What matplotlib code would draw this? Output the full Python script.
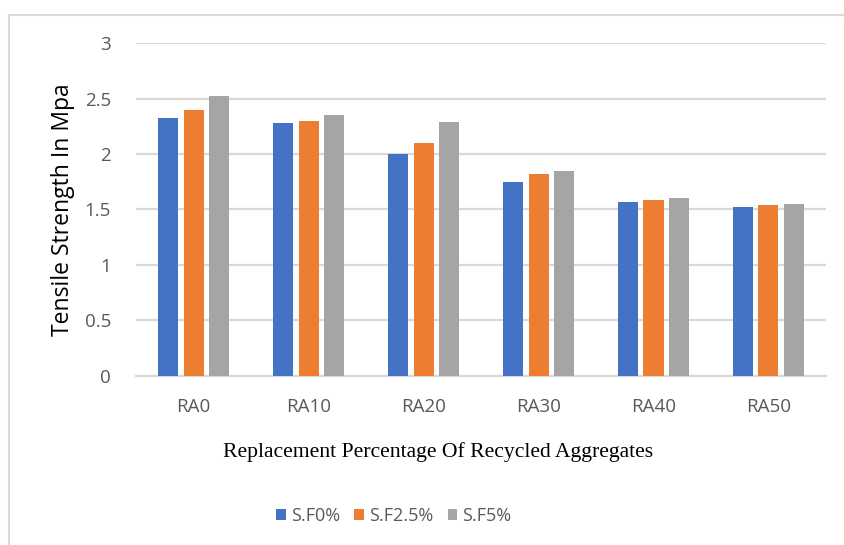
import numpy as np
import matplotlib.pyplot as plt
from matplotlib.lines import Line2D

categories = ['RA0', 'RA10', 'RA20', 'RA30', 'RA40', 'RA50']
sf0 = [2.33, 2.28, 2.00, 1.75, 1.57, 1.52]
sf25 = [2.40, 2.30, 2.10, 1.82, 1.59, 1.54]
sf5 = [2.52, 2.35, 2.29, 1.85, 1.60, 1.55]
series_names = ['S.F0%', 'S.F2.5%', 'S.F5%']
colors = ['#4472C4', '#ED7D31', '#A5A5A5']

plt.rcParams['font.family'] = ['Open Sans', 'DejaVu Sans']
tick_grey = '#595959'
grid_grey = '#D9D9D9'

fig = plt.figure(figsize=(8.45, 5.45), dpi=100)
ax = fig.add_axes([0.161, 0.3106, 0.8165, 0.61])

x = np.arange(len(categories))
step = 0.222
width = 0.174
for i, (vals, name, c) in enumerate(zip([sf0, sf25, sf5], series_names, colors)):
    ax.bar(x + (i - 1) * step, vals, width, color=c, label=name, zorder=3)

ax.set_xlim(-0.5, len(categories) - 0.5)
ax.set_ylim(0, 3)
ax.set_yticks(np.arange(0, 3.01, 0.5))
ax.set_yticklabels(['0', '0.5', '1', '1.5', '2', '2.5', '3'])
ax.set_xticks(x)
ax.set_xticklabels(categories)
ax.tick_params(axis='both', length=0, labelsize=13.5, colors=tick_grey)
ax.tick_params(axis='y', pad=18)
ax.tick_params(axis='x', pad=16)

ax.yaxis.grid(True, color=grid_grey, lw=1.6, zorder=0)
for side in ['top', 'right', 'left']:
    ax.spines[side].set_visible(False)
ax.spines['bottom'].set_color(grid_grey)
ax.spines['bottom'].set_linewidth(1.6)

ax.set_ylabel('Tensile Strength In Mpa', fontsize=16.5, color='black', labelpad=7)
fig.text(0.518, 0.17, 'Replacement Percentage Of Recycled Aggregates',
         family='Liberation Serif', fontsize=15.6, ha='center', va='center')

ax.legend(loc='center', bbox_to_anchor=(0.466, 0.054), bbox_transform=fig.transFigure,
          ncol=3, frameon=False, fontsize=13, labelcolor=tick_grey,
          handlelength=0.55, handleheight=0.55, handletextpad=0.25, columnspacing=0.8)

# outer chart frame, only top and left edges fall inside the canvas
fig.add_artist(Line2D([9.5 / 845, 9.5 / 845], [0, 1 - 14.5 / 545], color=grid_grey, lw=1.5,
                      transform=fig.transFigure))
fig.add_artist(Line2D([9.5 / 845, 1], [1 - 14.5 / 545, 1 - 14.5 / 545], color=grid_grey, lw=1.5,
                      transform=fig.transFigure))

fig.savefig('out.png', dpi=100)
